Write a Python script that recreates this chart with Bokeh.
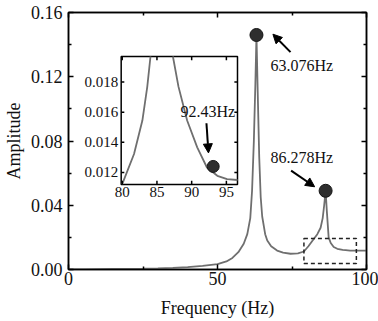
from bokeh.plotting import figure
from bokeh.models import (LinearAxis, Range1d, Arrow, NormalHead, Label,
                          BoxAnnotation, FixedTicker, PrintfTickFormatter,
                          CustomJSTickFormatter)
from bokeh.embed import file_html
from bokeh.resources import INLINE
from bokeh.core.properties import value

# ---------------- data ----------------
freq = [0, 5, 10, 15, 20, 25, 30, 35, 40, 45, 50, 53, 55, 57, 58.8, 60, 61,
        61.6, 62.2, 62.7, 63.076, 63.5, 64, 64.5, 65, 66, 66.7, 68, 70, 72,
        74.5, 77, 79, 80.5, 82.3, 83.5, 84.6, 85.3, 85.8, 86.278, 86.7, 87.3,
        88, 89, 90.2, 92, 93, 94.5, 96.9, 100]
amp = [0.0, 0.0001, 0.0002, 0.0003, 0.0004, 0.0005, 0.0007, 0.0010, 0.0015,
       0.0022, 0.0033, 0.0050, 0.0072, 0.0108, 0.016, 0.022, 0.032, 0.049,
       0.080, 0.115, 0.146, 0.110, 0.070, 0.045, 0.033, 0.022, 0.018, 0.0145,
       0.0118, 0.0105, 0.0098, 0.0100, 0.0112, 0.0145, 0.019, 0.022, 0.026,
       0.032, 0.040, 0.049, 0.036, 0.020, 0.0165, 0.014, 0.0129, 0.0122,
       0.0120, 0.0117, 0.0118, 0.0118]

inset_freq_left = [80.0, 81.7, 82.9, 83.6, 84.07]
inset_amp_left = [0.01123, 0.01323, 0.01545, 0.01767, 0.0197]
inset_freq_right = [87.3, 88.1, 89.35, 90.8, 92.2, 93.7, 95.1, 96.6]
inset_amp_right = [0.0197, 0.0177, 0.01545, 0.01367, 0.01233, 0.01178,
                   0.01156, 0.0115]

peak_freq = [63.076, 86.278]
peak_amp = [0.146, 0.049]
peak_labels = ["63.076Hz", "86.278Hz"]
inset_peak_freq = [93.1]
inset_peak_amp = [0.0124]
inset_peak_label = "92.43Hz"

x_ticks = [0, 50, 100]
y_ticks = [0.0, 0.04, 0.08, 0.12, 0.16]
inset_x_ticks = [80, 85, 90, 95]
inset_y_ticks = [0.012, 0.014, 0.016, 0.018]
inset_y_labels = ["0.012", "0.014", "0.016", "0.018"]
inset_x_labels = ["80", "85", "90", "95"]

# ---------------- layout constants ----------------
FONT = "Liberation Serif"
LINE = "#6f6f6f"
X_RANGE = (0, 100)
Y_RANGE = (0, 0.16)
# inset axes limits (inset data units)
IX0, IX1 = 79.85, 96.6
IY0, IY1 = 0.0112, 0.0197
# inset box placement expressed in main-axes units
BX0, BX1 = 17.68, 56.71
BY0, BY1 = 0.0529, 0.1326
# dashed zoom box (main units)
ZB = dict(left=79.0, right=96.6, bottom=0.0037, top=0.0193)

p = figure(width=378, height=321, output_backend="svg", toolbar_location=None,
           x_range=Range1d(*X_RANGE), y_range=Range1d(*Y_RANGE),
           min_border_left=68, min_border_right=12, min_border_top=12,
           min_border_bottom=52, x_axis_label="Frequency (Hz)",
           y_axis_label="Amplitude")
p.grid.visible = False
p.outline_line_color = "black"
p.outline_line_width = 1.5
p.background_fill_color = "white"
p.border_fill_color = "white"

def mid(t):
    return [(a + b) / 2 for a, b in zip(t[:-1], t[1:])]

xt = FixedTicker(ticks=x_ticks, minor_ticks=mid(x_ticks))
yt = FixedTicker(ticks=y_ticks, minor_ticks=mid(y_ticks))

def style_axis(ax):
    ax.axis_line_color = "black"
    ax.axis_line_width = 1.5
    ax.major_tick_in = 5
    ax.major_tick_out = 0
    ax.minor_tick_in = 3
    ax.minor_tick_out = 0
    ax.major_tick_line_width = 1.5
    ax.minor_tick_line_width = 1.5
    ax.major_label_text_font = FONT
    ax.major_label_text_font_size = "18px"
    ax.major_label_text_color = "#111111"
    ax.axis_label_text_font = FONT
    ax.axis_label_text_font_size = "18px"
    ax.axis_label_text_font_style = "normal"
    ax.axis_label_text_color = "#111111"

p.xaxis.ticker = xt
p.yaxis.ticker = yt
p.yaxis.formatter = PrintfTickFormatter(format="%.2f")
style_axis(p.xaxis[0])
style_axis(p.yaxis[0])
p.xaxis.major_label_standoff = 2
p.xaxis.axis_label_standoff = 10
p.yaxis.major_label_standoff = 6
p.yaxis.axis_label_standoff = 4

blank = CustomJSTickFormatter(code="return ''")
top = LinearAxis(ticker=xt, formatter=blank)
right = LinearAxis(ticker=yt, formatter=blank)
style_axis(top)
style_axis(right)
top.major_label_standoff = 0
right.major_label_standoff = 0
p.add_layout(top, "above")
p.add_layout(right, "right")

# main curve
p.line(freq, amp, line_color=LINE, line_width=1.8)

# dashed zoom box
p.add_layout(BoxAnnotation(**ZB, fill_alpha=0, line_color="#222222",
                           line_alpha=1, line_width=1.5, line_dash="4 3"))

# peak markers
p.scatter(peak_freq, peak_amp, size=13, fill_color="#2e2e2e",
          line_color="#151515", line_width=1)

# annotations for main peaks
p.add_layout(Arrow(end=NormalHead(size=9, fill_color="black", line_color="black"),
                   x_start=74.5, y_start=0.1353, x_end=68.6, y_end=0.1465,
                   line_width=2, line_color="black"))
p.add_layout(Label(x=67.8, y=0.127, text=peak_labels[0], text_font=FONT,
                   text_font_size="16px", text_baseline="middle",
                   text_color="#111111"))
p.add_layout(Arrow(end=NormalHead(size=9, fill_color="black", line_color="black"),
                   x_start=74.7, y_start=0.0616, x_end=82.6, y_end=0.0515,
                   line_width=2, line_color="black"))
p.add_layout(Label(x=67.8, y=0.070, text=peak_labels[1], text_font=FONT,
                   text_font_size="16px", text_baseline="middle",
                   text_color="#111111"))

# ---------------- inset, drawn on extra ranges ----------------
sx = (IX1 - IX0) / (BX1 - BX0)
sy = (IY1 - IY0) / (BY1 - BY0)
p.extra_x_ranges = {"ix": Range1d(IX0 + (X_RANGE[0] - BX0) * sx,
                                  IX0 + (X_RANGE[1] - BX0) * sx)}
p.extra_y_ranges = {"iy": Range1d(IY0 + (Y_RANGE[0] - BY0) * sy,
                                  IY0 + (Y_RANGE[1] - BY0) * sy)}
kw = dict(x_range_name="ix", y_range_name="iy")

p.quad(left=[IX0], right=[IX1], bottom=[IY0], top=[IY1], fill_color="white",
       line_color="black", line_width=1.5, **kw)
p.line(inset_freq_left, inset_amp_left, line_color=LINE, line_width=1.8, **kw)
p.line(inset_freq_right, inset_amp_right, line_color=LINE, line_width=1.8, **kw)

tlx = 0.45   # tick length in inset x units
tly = 0.00025
p.segment(x0=inset_x_ticks, y0=[IY0] * 4, x1=inset_x_ticks, y1=[IY0 + tly] * 4,
          line_color="black", line_width=1.5, **kw)
p.segment(x0=inset_x_ticks, y0=[IY1] * 4, x1=inset_x_ticks, y1=[IY1 - tly] * 4,
          line_color="black", line_width=1.5, **kw)
p.segment(x0=[IX0] * 4, y0=inset_y_ticks, x1=[IX0 + tlx] * 4, y1=inset_y_ticks,
          line_color="black", line_width=1.5, **kw)
p.segment(x0=[IX1] * 4, y0=inset_y_ticks, x1=[IX1 - tlx] * 4, y1=inset_y_ticks,
          line_color="black", line_width=1.5, **kw)

p.text(x=inset_x_ticks, y=[IY0] * 4, text=inset_x_labels, text_align="center",
       text_baseline="top", y_offset=2, text_font=value(FONT),
       text_font_size="15px", text_color="#111111", **kw)
p.text(x=[IX0] * 4, y=inset_y_ticks, text=inset_y_labels, text_align="right",
       text_baseline="middle", x_offset=-3, text_font=value(FONT),
       text_font_size="15px", text_color="#111111", **kw)

p.scatter(inset_peak_freq, inset_peak_amp, size=12, fill_color="#2e2e2e",
          line_color="#151515", line_width=1, **kw)
p.add_layout(Arrow(end=NormalHead(size=9, fill_color="black", line_color="black"),
                   x_start=92.13, y_start=0.01527, x_end=92.42, y_end=0.0133,
                   line_width=2, line_color="black", **kw))
p.add_layout(Label(x=88.39, y=0.01607, text=inset_peak_label, text_font=FONT,
                   text_font_size="16px", text_baseline="middle",
                   text_color="#111111", **kw))

open("out.html", "w").write(file_html(p, INLINE))
